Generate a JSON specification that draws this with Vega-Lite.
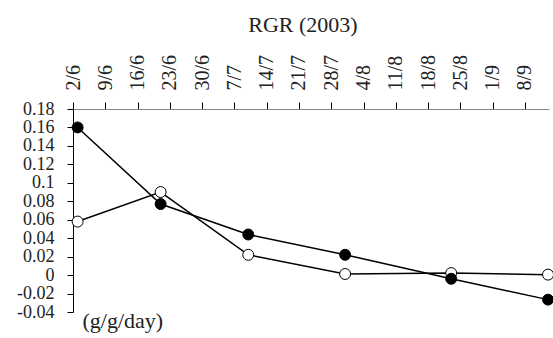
{
  "$schema": "https://vega.github.io/schema/vega-lite/v6.json",
  "width": 476,
  "height": 203,
  "autosize": {"type": "none"},
  "padding": {"left": 73, "top": 109, "right": 4, "bottom": 26},
  "background": "white",
  "config": {"view": {"stroke": null}, "font": "Liberation Serif"},
  "title": {"text": "RGR (2003)", "font": "Liberation Serif", "fontSize": 22, "fontWeight": "normal", "color": "#222", "anchor": "middle", "offset": 17, "dx": -8},
  "data": {
    "values": [
      {"date": "2003-06-03T00:00", "series": "open", "value": 0.058},
      {"date": "2003-06-21T00:00", "series": "open", "value": 0.090},
      {"date": "2003-07-10T00:00", "series": "open", "value": 0.022},
      {"date": "2003-07-31T00:00", "series": "open", "value": 0.0012},
      {"date": "2003-08-23T00:00", "series": "open", "value": 0.0022},
      {"date": "2003-09-13T00:00", "series": "open", "value": 0.0005},
      {"date": "2003-06-03T00:00", "series": "filled", "value": 0.160},
      {"date": "2003-06-21T00:00", "series": "filled", "value": 0.077},
      {"date": "2003-07-10T00:00", "series": "filled", "value": 0.044},
      {"date": "2003-07-31T00:00", "series": "filled", "value": 0.022},
      {"date": "2003-08-23T00:00", "series": "filled", "value": -0.004},
      {"date": "2003-09-13T00:00", "series": "filled", "value": -0.0266}
    ]
  },
  "encoding": {
    "x": {
      "field": "date",
      "type": "temporal",
      "scale": {"domain": [{"year": 2003, "month": 6, "date": 2}, {"year": 2003, "month": 9, "date": 13, "hours": 5}]},
      "axis": {
        "orient": "top",
        "values": [
          {"year": 2003, "month": 6, "date": 2},
          {"year": 2003, "month": 6, "date": 9},
          {"year": 2003, "month": 6, "date": 16},
          {"year": 2003, "month": 6, "date": 23},
          {"year": 2003, "month": 6, "date": 30},
          {"year": 2003, "month": 7, "date": 7},
          {"year": 2003, "month": 7, "date": 14},
          {"year": 2003, "month": 7, "date": 21},
          {"year": 2003, "month": 7, "date": 28},
          {"year": 2003, "month": 8, "date": 4},
          {"year": 2003, "month": 8, "date": 11},
          {"year": 2003, "month": 8, "date": 18},
          {"year": 2003, "month": 8, "date": 25},
          {"year": 2003, "month": 9, "date": 1},
          {"year": 2003, "month": 9, "date": 8}
        ],
        "format": "%-d/%-m",
        "labelAngle": -90,
        "labelFont": "Liberation Serif",
        "labelFontSize": 20,
        "labelColor": "#222",
        "labelPadding": 12,
        "labelOverlap": false,
        "labelFlush": false,
        "tickSize": 7,
        "tickColor": "black",
        "domainColor": "#888",
        "grid": false,
        "title": null
      }
    },
    "y": {
      "field": "value",
      "type": "quantitative",
      "scale": {"domain": [-0.04, 0.18], "nice": false, "zero": false},
      "axis": {
        "values": [-0.04, -0.02, 0, 0.02, 0.04, 0.06, 0.08, 0.1, 0.12, 0.14, 0.16, 0.18],
        "labelExpr": "'' + datum.value",
        "labelFont": "Liberation Serif",
        "labelFontSize": 18,
        "labelColor": "#222",
        "labelPadding": 13,
        "labelOverlap": false,
        "labelFlush": false,
        "tickSize": 6,
        "tickColor": "black",
        "domainColor": "black",
        "grid": false,
        "title": "(g/g/day)",
        "titleFont": "Liberation Serif",
        "titleFontSize": 22,
        "titleFontWeight": "normal",
        "titleColor": "#222",
        "titleAngle": 0,
        "titleAlign": "left",
        "titleBaseline": "alphabetic",
        "titleX": 9,
        "titleY": 218
      }
    }
  },
  "layer": [
    {
      "mark": {"type": "line", "color": "black", "strokeWidth": 1.5},
      "encoding": {"detail": {"field": "series"}}
    },
    {
      "mark": {"type": "point", "shape": "circle", "size": 120, "stroke": "black", "strokeWidth": 1, "opacity": 1, "filled": false},
      "encoding": {
        "fill": {"field": "series", "type": "nominal", "scale": {"domain": ["filled", "open"], "range": ["black", "white"]}, "legend": null}
      }
    }
  ]
}
